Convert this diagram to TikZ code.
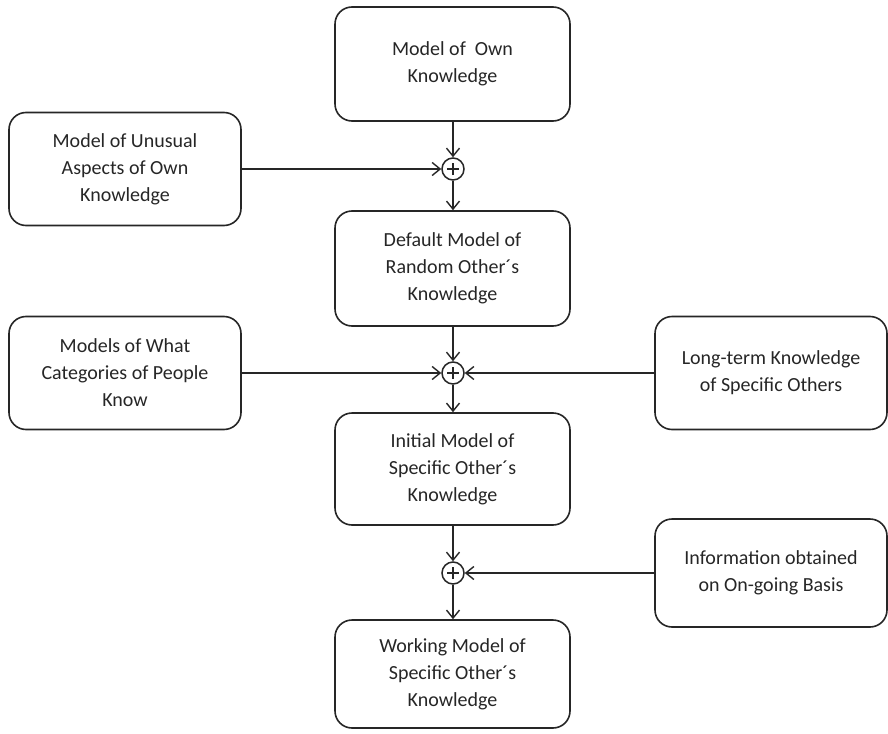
\documentclass[tikz,border=0pt]{standalone}
\usepackage{fontspec}
\setmainfont{Carlito}
\usetikzlibrary{arrows.meta}
\begin{document}
\begin{tikzpicture}[x=1pt,y=-1pt,
  box/.style={draw=black!85,line width=1.6pt,rounded corners=17pt,minimum width=235pt,
    align=center,inner sep=0pt,font=\fontsize{20pt}{27pt}\selectfont,text=black!85},
  sidebox/.style={box,minimum width=232pt},
  plus/.style={draw=black!85,line width=1.5pt,circle,minimum size=22pt,inner sep=0pt},
  conn/.style={draw=black!85,line width=1.4pt,-{Straight Barb[length=8pt,width=13pt,line width=1.4pt]}}]
\useasboundingbox (0,0) rectangle (888,733);
% nodes
\node[box,minimum height=114pt] (own) at (452.5,64) {Model of\ \ Own\\Knowledge};
\node[sidebox,minimum height=113pt] (unusual) at (125,169) {Model of Unusual\\Aspects of Own\\Knowledge};
\node[plus] (p1) at (453,169) {};
\node[box,minimum height=115pt] (default) at (452.5,268.5) {Default Model of\\Random Other´s\\Knowledge};
\node[sidebox,minimum height=113pt] (cat) at (125,373) {Models of What\\Categories of People\\Know};
\node[plus] (p2) at (453,373) {};
\node[sidebox,minimum height=113pt] (long) at (771,373) {Long-term Knowledge\\of Specific Others};
\node[box,minimum height=112pt] (initial) at (452.5,469) {Initial Model of\\Specific Other´s\\Knowledge};
\node[sidebox,minimum height=108pt] (info) at (771,573) {Information obtained\\on On-going Basis};
\node[plus] (p3) at (453,573) {};
\node[box,minimum height=108pt] (working) at (452.5,674) {Working Model of\\Specific Other´s\\Knowledge};
% plus signs
\foreach \p in {p1,p2,p3}{
  \draw[line width=1.3pt,black!85] ([xshift=-6pt]\p.center) -- ([xshift=6pt]\p.center)
    ([yshift=-6pt]\p.center) -- ([yshift=6pt]\p.center);
}
% connectors
\draw[conn] (own.south -| p1) -- (p1);
\draw[conn] (unusual.east) -- (p1);
\draw[conn] (p1) -- (default.north -| p1);
\draw[conn] (default.south -| p2) -- (p2);
\draw[conn] (cat.east) -- (p2);
\draw[conn] (long.west) -- (p2);
\draw[conn] (p2) -- (initial.north -| p2);
\draw[conn] (initial.south -| p3) -- (p3);
\draw[conn] (info.west) -- (p3);
\draw[conn] (p3) -- (working.north -| p3);
\end{tikzpicture}
\end{document}
